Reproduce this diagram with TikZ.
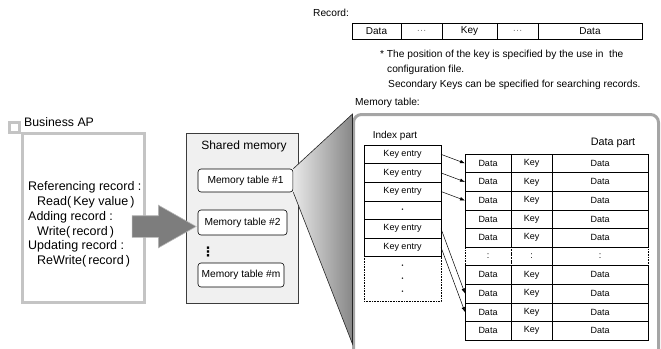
\documentclass[tikz,border=0pt]{standalone}
\usepackage{fontspec}
\setmainfont{Liberation Sans}
\newfontfamily\symfont{DejaVu Sans}
\usetikzlibrary{positioning,arrows.meta,shapes.arrows}

\definecolor{apgray}{RGB}{196,196,196}
\definecolor{shmfill}{RGB}{240,240,240}
\definecolor{shmline}{RGB}{60,60,60}
\definecolor{arrowgray}{RGB}{125,125,125}
\definecolor{framegray}{RGB}{165,165,165}
\definecolor{conelight}{RGB}{232,232,232}
\definecolor{conedark}{RGB}{135,135,135}

\newcommand{\tinydot}{{\fontsize{5.5}{6}\selectfont •}}

\tikzset{
  cell/.style={draw, line width=0.6pt, inner sep=0pt, outer sep=0pt, minimum height=18.6pt, font=\fontsize{9}{10}\selectfont},
  dotcell/.style={cell, densely dotted},
  reccell/.style={draw, line width=0.6pt, inner sep=0pt, outer sep=0pt, minimum height=16pt, font=\fontsize{10}{11}\selectfont},
  memtab/.style={draw, line width=0.6pt, fill=white, rounded corners=3pt, inner sep=0pt, minimum height=24pt, font=\fontsize{10.2}{11}\selectfont},
  ptr/.style={-{Latex[length=5pt,width=3.5pt]}, line width=0.5pt},
  note/.style={anchor=west, inner sep=0pt, font=\fontsize{10.2}{12}\selectfont},
}

\begin{document}
\begin{tikzpicture}[x=1pt, y=-1pt]
  \useasboundingbox (0,0) rectangle (661,348);
  \clip (0,0) rectangle (661,348);

  % Record layout
  \node[note] (rectitle) at (313,13) {Record:};
  \node[reccell, minimum width=49pt] (rec1) at (376.5,31) {Data};
  \node[reccell, minimum width=41pt, right=0pt of rec1, text=gray] (rec2) {…};
  \node[reccell, minimum width=55pt, right=0pt of rec2] (rec3) {Key};
  \node[reccell, minimum width=41pt, right=0pt of rec3, text=gray] (rec4) {…};
  \node[reccell, minimum width=104pt, right=0pt of rec4] (rec5) {Data};

  % Notes
  \node[note] (note1) at (380,55) {* The position of the key is specified by the use in\ \ the};
  \node[note] (note2) at (387,70) {configuration file.};
  \node[note] (note3) at (388,85) {Secondary Keys can be specified for searching records.};
  \node[note] (mttitle) at (355,103) {Memory table:};

  % Business AP
  \node[draw=apgray, line width=3pt, minimum size=9.4pt, inner sep=0pt, outer sep=0pt] (apmark) at (14.5,127.5) {};
  \node[draw=apgray, line width=3pt, minimum width=122pt, minimum height=168.7pt, outer sep=0pt, anchor=north west] (apbox) at (22.2,133.8) {};
  \node[anchor=west, inner sep=0pt, font=\fontsize{12.3}{14}\selectfont] (aptitle) at (24,122) {Business AP};
  \node[anchor=west, align=left, inner sep=0pt, font=\fontsize{12.5}{14.7}\selectfont] (aptext) at (28,224.5)
    {Referencing record :\\\hspace*{9pt}Read(\,Key value\,)\\Adding record :\\\hspace*{9pt}Write(\,record\,)\\Updating record :\\\hspace*{9pt}ReWrite(\,record\,)};

  % Shared memory
  \node[draw=shmline, line width=0.8pt, fill=shmfill, minimum width=112pt, minimum height=170pt, outer sep=0pt] (shm) at (242,218) {};
  \node[font=\fontsize{12}{14}\selectfont] (shmtitle) at (244,146) {Shared memory};
  \node[memtab, minimum width=95pt, minimum height=23pt] (mt1) at (245.5,180.5) {Memory table \#1};
  \node[memtab, minimum width=89pt, minimum height=25pt] (mt2) at (242.5,222.5) {Memory table \#2};
  \node[font=\symfont\bfseries\fontsize{13}{14}\selectfont] (mtdots) at (208,251.5) {⋮};
  \node[memtab, minimum width=86pt] (mtm) at (241,275) {Memory table \#m};

  % Access arrow
  \node[single arrow, fill=arrowgray, draw=arrowgray!55, line width=0.6pt, inner sep=0pt, inner ysep=10.5pt,
    minimum height=64pt, single arrow head extend=10.5pt, single arrow tip angle=59, anchor=tip]
    (callarrow) at ([shift={(-1,4)}]mt2.west) {};

  % Memory table frame and zoom
  \draw[framegray, line width=3pt, rounded corners=8pt] (353.5,114.5) rectangle (658.5,380);
  \coordinate (mtnw) at (352.5,114);
  \coordinate (mtsw) at (352.5,344);
  \shade[left color=conelight, right color=conedark] (mt1.north east) -- (mtnw) -- (mtsw) -- (mt1.south east) -- cycle;
  \draw[line width=0.6pt, black!85] (mt1.north east) -- (mtnw) -- (mtsw) -- (mt1.south east);

  % Index part
  \node[font=\fontsize{10}{12}\selectfont] (idxtitle) at (395,136) {Index part};
  \foreach \txt [count=\i] in {Key entry,Key entry,Key entry,\tinydot,Key entry,Key entry}
    \node[cell, minimum width=77pt] (idx\i) at (402.5,{145+(\i-0.5)*18.6}) {\txt};
  \node[dotcell, minimum width=77pt, minimum height=45pt, below=0pt of idx6, align=center,
    font=\fontsize{9}{13}\selectfont] (idxmore) {\tinydot\\\tinydot\\\tinydot};

  % Data part
  \node[font=\fontsize{10.8}{12}\selectfont] (datatitle) at (613,143) {Data part};
  \foreach \r in {1,...,10}{
    \ifnum\r=6 \def\st{dotcell}\def\da{:}\def\ky{:}\else\def\st{cell}\def\da{Data}\def\ky{Key}\fi
    \node[\st, minimum width=46pt] (da\r) at (488,{154+(\r-0.5)*18.6}) {\da};
    \node[\st, minimum width=41pt, right=0pt of da\r] (db\r) {\ky};
    \node[\st, minimum width=96pt, right=0pt of db\r] (dc\r) {\da};
  }

  % Pointers
  \foreach \a/\b in {1/1,2/2,3/3,5/8,6/9}
    \draw[ptr] (idx\a.east) -- (da\b.west);
\end{tikzpicture}
\end{document}
